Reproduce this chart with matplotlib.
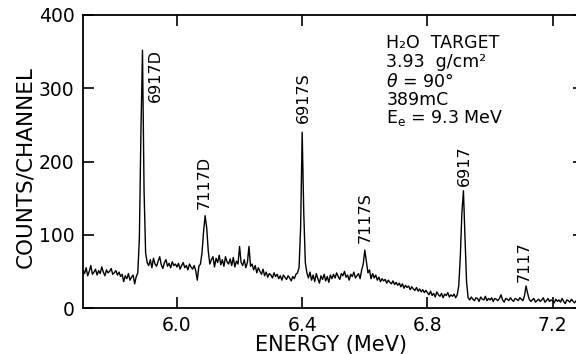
import numpy as np
import matplotlib
matplotlib.use('Agg')
import matplotlib.pyplot as plt

# channel calibration of the spectrum (MeV)
energy_start = 5.700
channel_width = 0.005

# counts per channel, one row = 0.1 MeV
counts = [
    52, 47, 55, 44, 50, 58, 46, 49, 53, 45, 51, 47, 56, 49, 44, 52, 48, 50, 54, 46,
    48, 51, 45, 49, 43, 46, 36, 44, 40, 47, 38, 42, 45, 33, 43, 48, 95, 240, 352, 160,
    75, 62, 58, 66, 55, 68, 60, 57, 64, 70, 59, 54, 62, 66, 57, 61, 55, 63, 58, 60,
    56, 61, 53, 58, 62, 55, 58, 52, 60, 56, 53, 58, 51, 38, 57, 60, 75, 104, 126, 110,
    78, 60, 66, 70, 56, 68, 62, 72, 59, 66, 57, 70, 63, 60, 67, 58, 69, 56, 64, 60,
    84, 62, 58, 66, 55, 62, 84, 57, 60, 52, 58, 48, 55, 50, 46, 53, 44, 49, 42, 47,
    45, 41, 48, 43, 46, 40, 44, 38, 45, 42, 39, 44, 41, 37, 43, 40, 46, 48, 55, 110,
    240, 130, 62, 48, 41, 49, 38, 45, 36, 47, 40, 34, 44, 39, 46, 37, 43, 35, 45, 40,
    46, 41, 48, 43, 39, 47, 44, 50, 42, 45, 38, 46, 43, 49, 41, 44, 47, 40, 52, 60,
    79, 64, 48, 52, 40, 47, 41, 45, 38, 42, 36, 40, 37, 39, 34, 38, 35, 33, 37, 32,
    35, 31, 34, 29, 33, 27, 31, 28, 30, 25, 29, 26, 24, 28, 23, 26, 22, 25, 21, 24,
    21, 18, 23, 17, 20, 15, 22, 18, 16, 20, 14, 19, 17, 21, 15, 18, 16, 19, 14, 18,
    30, 70, 130, 160, 95, 35, 14, 11, 15, 12, 10, 14, 13, 9, 15, 12, 11, 16, 10, 13,
    11, 14, 9, 13, 12, 10, 13, 18, 11, 8, 13, 12, 10, 14, 11, 9, 13, 12, 10, 14,
    12, 10, 17, 30, 20, 12, 9, 11, 13, 8, 10, 12, 9, 11, 14, 8, 10, 13, 9, 11,
    10, 7, 12, 9, 11, 8, 13, 9, 6, 11, 10, 8, 12, 9, 7, 10, 8, 11, 9, 10,
]

# peak labels: text, energy, count position of label centre
peak_names = ['6917D', '7117D', '6917S', '7117S', '6917', '7117']
peak_label_x = [5.930, 6.087, 6.404, 6.602, 6.919, 7.108]
peak_label_y = [318, 172, 287, 123, 194, 63]

info_lines = ['H\u2082O  TARGET', '3.93  g/cm\u00b2', '$\\theta$ = 90\u00b0',
              '389mC', '$\\mathregular{E_e}$ = 9.3 MeV']
info_y = [355, 329, 302, 277, 252]

x_ticks = [6.0, 6.4, 6.8, 7.2]
y_ticks = [0, 100, 200, 300, 400]

energy = energy_start + channel_width * np.arange(len(counts))

fig = plt.figure(figsize=(5.76, 3.54), dpi=100)
ax = fig.add_axes([83 / 576, 1 - 308 / 354, (584 - 83) / 576, (308 - 15) / 354])

ax.plot(energy, counts, color='black', lw=1.0)

ax.set_xlim(5.70, 7.30)
ax.set_ylim(0, 400)
ax.set_xticks(x_ticks)
ax.set_xticklabels([f'{t:.1f}' for t in x_ticks])
ax.set_yticks(y_ticks)
ax.tick_params(direction='in', length=8, width=1.2, top=True, right=True,
               labelsize=13.5, pad=6)
ax.tick_params(axis='x', pad=6)
for sp in ax.spines.values():
    sp.set_linewidth(1.3)

ax.set_xlabel('ENERGY (MeV)', fontsize=15)
ax.xaxis.set_label_coords(0.495, -0.093)
ax.set_ylabel('COUNTS/CHANNEL', fontsize=15.5)
ax.yaxis.set_label_coords(-0.095, 0.48)

for name, px, py in zip(peak_names, peak_label_x, peak_label_y):
    ax.text(px, py, name, rotation=90, ha='center', va='center', fontsize=11.5)

for line, ly in zip(info_lines, info_y):
    ax.text(6.669, ly, line, ha='left', va='baseline', fontsize=12.5)

fig.savefig('out.png', dpi=100)
